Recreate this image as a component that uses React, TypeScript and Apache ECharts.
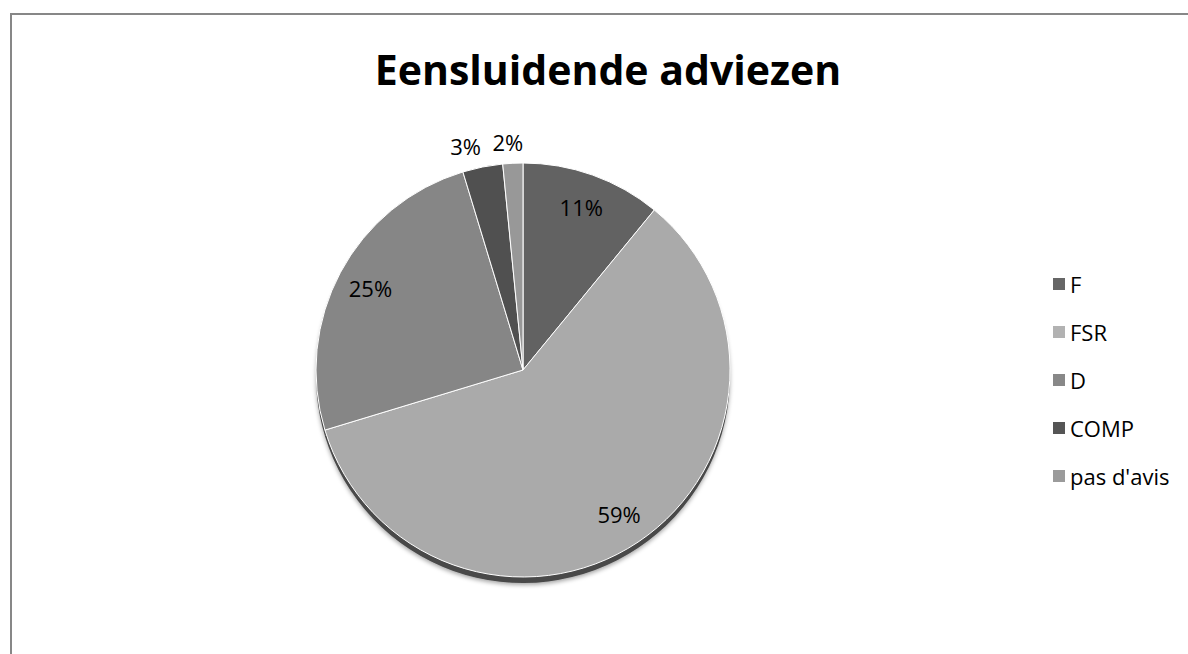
import React, { useEffect, useRef } from "react";
import * as echarts from "echarts";

const titleText = "Eensluidende adviezen";
const categories = ["F", "FSR", "D", "COMP", "pas d'avis"];
const counts = [7, 38, 16, 2, 1];
const sliceColors = ["#626262", "#aaaaaa", "#868686", "#505050", "#989898"];
const legendColors = ["#666666", "#b2b2b2", "#888888", "#555555", "#9b9b9b"];
const outerLabelCats = ["COMP", "pas d'avis"];

const FONT = "'Open Sans', Lato, sans-serif";

export default function App() {
  const ref = useRef<HTMLDivElement>(null);
  useEffect(() => {
    if (!ref.current) return;
    const chart = echarts.init(ref.current, null, { renderer: "svg" });
    const center = [523, 370];
    const R = 207;
    const fmt = (p: any) => Math.round(p.percent) + "%";
    const labelText = { color: "#000", fontSize: 22, fontFamily: FONT };
    const outerPad: Record<string, number[]> = {
      COMP: [0, 26, 0, 0],
      "pas d'avis": [0, 8, 0, 0],
    };

    const mainData = categories.map((c, i) => ({
      name: c,
      value: counts[i],
      itemStyle: { color: sliceColors[i] },
    }));

    chart.setOption({
      animation: false,
      backgroundColor: "#ffffff",
      title: {
        text: titleText,
        left: 603,
        textAlign: "center",
        top: 43,
        textStyle: { fontSize: 41, fontWeight: "bold", color: "#000", fontFamily: FONT },
      },
      legend: {
        orient: "vertical",
        left: 1048,
        top: 267,
        icon: "rect",
        itemWidth: 12,
        itemHeight: 12,
        itemGap: 24,
        selectedMode: false,
        textStyle: { fontSize: 22, lineHeight: 24, color: "#000", fontFamily: FONT },
        data: categories.map((c, i) => ({ name: c, itemStyle: { color: legendColors[i] } })),
      },
      graphic: [
        {
          type: "rect",
          shape: { x: 11, y: 14, width: 1400, height: 900 },
          style: { fill: "none", stroke: "#878787", lineWidth: 2 },
          silent: true,
        },
      ],
      series: [
        {
          type: "pie",
          name: "shadow",
          center: [center[0], center[1] + 6],
          radius: R,
          startAngle: 90,
          silent: true,
          z: 1,
          label: { show: false },
          labelLine: { show: false },
          itemStyle: { color: "#4a4a4a", shadowBlur: 4, shadowColor: "rgba(0,0,0,0.35)", shadowOffsetY: 2 },
          data: categories.map((c, i) => ({ name: c, value: counts[i] })),
        },
        {
          type: "pie",
          name: "main",
          center,
          radius: R,
          startAngle: 90,
          silent: true,
          z: 2,
          label: { show: false },
          labelLine: { show: false },
          itemStyle: { borderColor: "#ffffff", borderWidth: 1 },
          data: mainData,
        },
        {
          type: "pie",
          name: "innerLabels",
          center,
          radius: 340,
          startAngle: 90,
          silent: true,
          z: 3,
          itemStyle: { color: "rgba(0,0,0,0)" },
          labelLine: { show: false },
          data: categories.map((c, i) => ({
            name: c,
            value: counts[i],
            label: {
              show: !outerLabelCats.includes(c),
              position: "inside",
              formatter: fmt,
              ...labelText,
            },
          })),
        },
        {
          type: "pie",
          name: "outerLabels",
          center,
          radius: 450,
          startAngle: 90,
          silent: true,
          z: 3,
          itemStyle: { color: "rgba(0,0,0,0)" },
          labelLine: { show: false },
          data: categories.map((c, i) => ({
            name: c,
            value: counts[i],
            label: {
              show: outerLabelCats.includes(c),
              position: "inside",
              formatter: fmt,
              padding: outerPad[c] || 0,
              ...labelText,
            },
          })),
        },
      ],
    });
    return () => chart.dispose();
  }, []);
  return (
    <div
      ref={ref}
      style={{ position: "absolute", left: 0, top: 0, width: 1188, height: 654 }}
    />
  );
}
